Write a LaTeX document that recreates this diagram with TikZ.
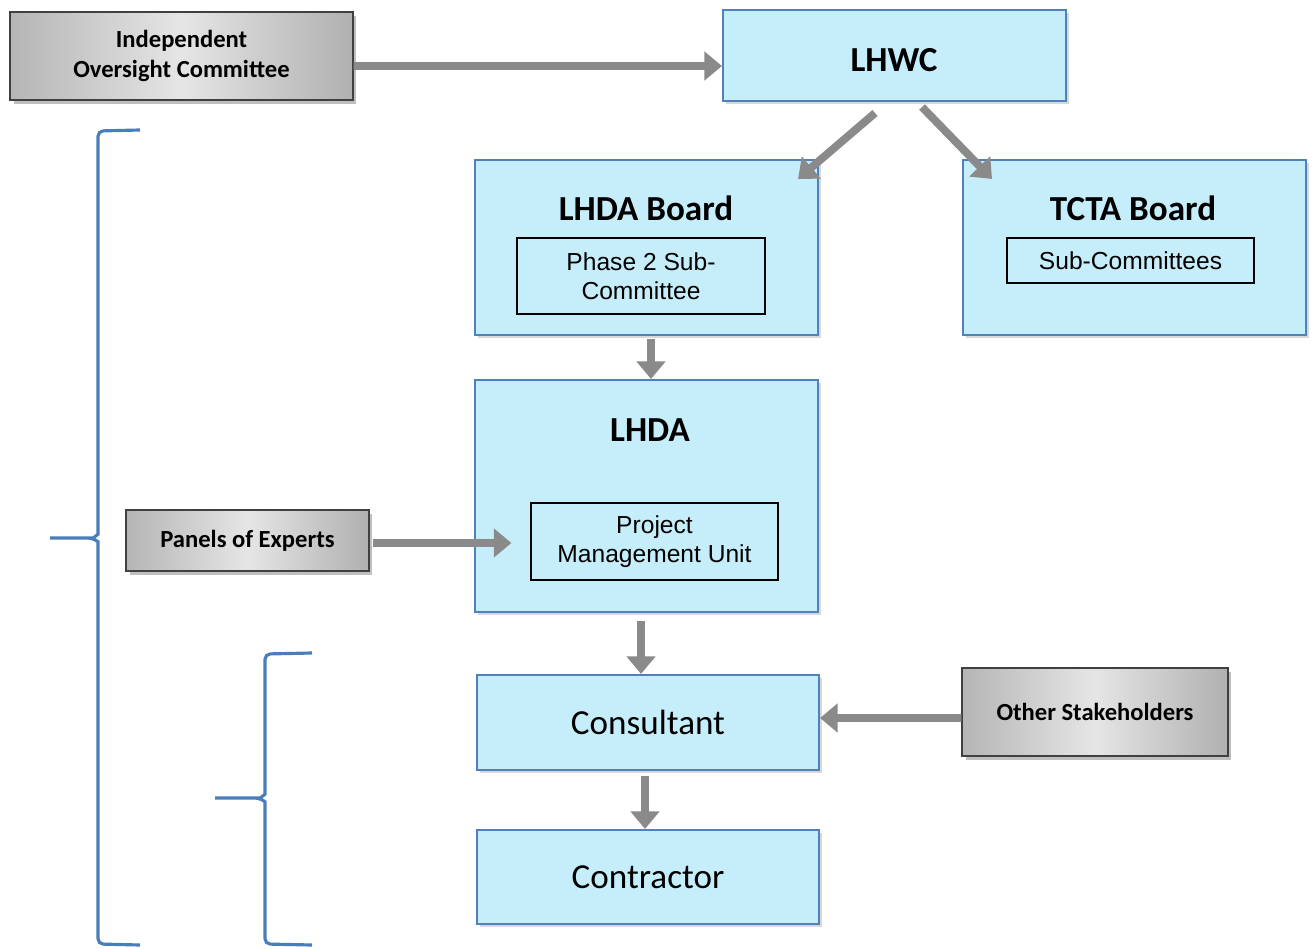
\documentclass[tikz,border=0pt]{standalone}
\usepackage{fontspec}
\setmainfont{Carlito}
\newfontfamily\arialfont{Liberation Sans}
\usetikzlibrary{arrows.meta,shadows}
\definecolor{boxblue}{RGB}{198,238,250}
\definecolor{edgeblue}{RGB}{79,129,189}
\definecolor{bracecol}{RGB}{74,126,187}
\definecolor{arrowgray}{RGB}{138,138,138}
\tikzset{
  bluebox/.style={draw=edgeblue, line width=1.2pt, fill=boxblue, inner sep=0pt,
    minimum width=6.86cm, drop shadow={shadow xshift=0.06cm, shadow yshift=-0.06cm, opacity=0.3}},
  graybox/.style={draw=black!75, line width=0.8pt, left color=gray!58, right color=gray!62,
    middle color=gray!20, inner sep=0pt, align=center, font=\bfseries\fontsize{14}{17}\selectfont,
    drop shadow={shadow xshift=0.07cm, shadow yshift=-0.08cm, opacity=0.5}},
  innerbox/.style={draw=black, line width=0.7pt, inner sep=0pt, align=center,
    font=\arialfont\fontsize{14}{16.5}\selectfont},
  boxtitle/.style={font=\bfseries\fontsize{20}{24}\selectfont},
  flow/.style={draw=arrowgray, line width=4.5pt, -{Triangle[width=16pt,length=10pt]}},
  brace/.style={draw=bracecol, line width=1.8pt, rounded corners=3pt}
}
\begin{document}
\begin{tikzpicture}[x=0.02cm, y=-0.02cm]
  \fill[white] (0,0) rectangle (1314,949);
  \useasboundingbox (0,0) rectangle (1314,949);
  % top row
  \node[graybox, minimum width=6.86cm, minimum height=1.76cm] (ioc) at (181.5,56)
    {Independent\\Oversight Committee};
  \node[bluebox, minimum height=1.82cm] (lhwc) at (894.5,55.5) {};
  \node[boxtitle] (lhwctitle) at (894,60) {LHWC};
  % boards
  \node[bluebox, minimum height=3.5cm] (lhdaboard) at (646.5,247.5) {};
  \node[boxtitle] (lhdaboardtitle) at (646,208) {LHDA Board};
  \node[innerbox, minimum width=4.96cm, minimum height=1.52cm] (phase2) at (641,276)
    {Phase 2 Sub-\\Committee};
  \node[bluebox, minimum height=3.5cm] (tcta) at (1134.5,247.5) {};
  \node[boxtitle] (tctatitle) at (1133,208) {TCTA Board};
  \node[innerbox, minimum width=4.94cm, minimum height=0.9cm] (subcom) at (1130.5,260.5)
    {Sub-Committees};
  % authority
  \node[bluebox, minimum height=4.64cm] (lhda) at (646.5,496) {};
  \node[boxtitle] (lhdatitle) at (650,430) {LHDA};
  \node[innerbox, minimum width=4.94cm, minimum height=1.54cm] (pmu) at (654.5,541.5)
    {Project\\Management Unit};
  \node[graybox, minimum width=4.86cm, minimum height=1.22cm] (panels) at (247.5,540.5)
    {Panels of Experts};
  % project level
  \node[bluebox, minimum width=6.84cm, minimum height=1.9cm, font=\fontsize{20}{24}\selectfont]
    (consultant) at (648,722.5) {Consultant};
  \node[bluebox, minimum width=6.84cm, minimum height=1.88cm, font=\fontsize{20}{24}\selectfont]
    (contractor) at (648,877) {Contractor};
  \node[graybox, minimum width=5.32cm, minimum height=1.76cm] (others) at (1095,712)
    {Other Stakeholders};
  % arrows
  \draw[flow] ([yshift=-0.2cm]ioc.east) -- ([yshift=-0.21cm]lhwc.west);
  \draw[flow] ([xshift=-0.39cm,yshift=-0.22cm]lhwc.south)
    -- ([xshift=-0.42cm,yshift=-0.4cm]lhdaboard.north east);
  \draw[flow] ([xshift=0.55cm,yshift=-0.1cm]lhwc.south)
    -- ([xshift=0.6cm,yshift=-0.4cm]tcta.north west);
  \draw[flow] ([xshift=0.09cm,yshift=-0.06cm]lhdaboard.south) -- ([xshift=0.09cm]lhda.north);
  \draw[flow] ([xshift=-0.11cm,yshift=-0.16cm]lhda.south) -- ([xshift=-0.14cm]consultant.north);
  \draw[flow] ([xshift=-0.06cm,yshift=-0.1cm]consultant.south) -- ([xshift=-0.06cm]contractor.north);
  \draw[flow] ([xshift=0.06cm,yshift=-0.05cm]panels.east) -- ([xshift=-0.38cm,yshift=-0.03cm]pmu.west);
  \draw[flow] ([yshift=-0.12cm]others.west) -- ([yshift=0.09cm]consultant.east);
  % braces
  \draw[brace] (140,130) -- (98,131) -- (98,529) to[out=-90,in=0] (88,538) -- (50,538)
    (88,538) to[out=0,in=90] (98,547) -- (98,944) -- (140,945);
  \draw[brace] (312,653) -- (265,654) -- (265,789) to[out=-90,in=0] (255,798) -- (215,798)
    (255,798) to[out=0,in=90] (265,807) -- (265,944) -- (312,945);
\end{tikzpicture}
\end{document}
